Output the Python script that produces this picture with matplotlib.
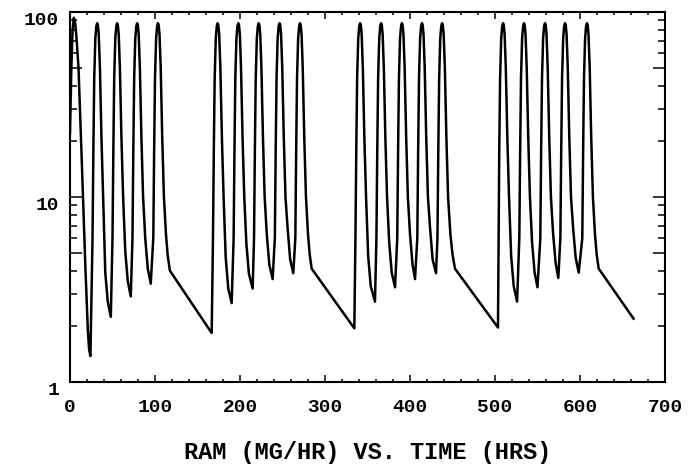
import matplotlib
matplotlib.use("Agg")
import matplotlib.pyplot as plt
from matplotlib.ticker import FixedLocator, FixedFormatter, NullFormatter

# elapsed time (hrs), one release pulse per line
hours = [
    0, 1.5, 3, 4.5, 6, 7.5, 10, 14, 18, 21, 22.5, 24,
    26.5, 27.5, 28.5, 29.8, 31, 32, 32.8, 33.8, 35.2, 37, 39, 41.5, 44.5, 48,
    50, 51, 52, 53.3, 54.5, 55.5, 56.3, 57.3, 58.7, 60.5, 62.5, 65, 68, 71.5,
    73.5, 74.5, 75.5, 76.8, 78, 79, 79.8, 80.8, 82.2, 84, 86, 88.5, 91.5, 95,
    98, 99, 100, 101.3, 102.5, 103.5, 104.3, 105.3, 106.7, 108.5, 110.5, 113, 115, 117.5, 166.7,
    168.2, 169.2, 170.2, 171.5, 172.7, 173.7, 174.5, 175.5, 176.9, 178.7, 180.7, 183.2, 186.2, 190.2,
    192.5, 193.5, 194.5, 195.8, 197, 198, 198.8, 199.8, 201.2, 203, 205, 207.5, 210.5, 214.9,
    216.5, 217.5, 218.5, 219.8, 221, 222, 222.8, 223.8, 225.2, 227, 229, 231.5, 234.5, 238.4,
    241, 242, 243, 244.3, 245.5, 246.5, 247.3, 248.3, 249.7, 251.5, 253.5, 256, 259, 262.7,
    265.1, 266.1, 267.1, 268.4, 269.6, 270.6, 271.4, 272.4, 273.8, 275.6, 277.6, 280, 282, 284.3, 334.5,
    335.8, 336.8, 337.8, 339.1, 340.3, 341.3, 342.1, 343.1, 344.5, 346.3, 348.3, 350.8, 353.8, 358.8,
    360.5, 361.5, 362.5, 363.8, 365, 366, 366.8, 367.8, 369.2, 371, 373, 375.5, 378.5, 382.4,
    385, 386, 387, 388.3, 389.5, 390.5, 391.3, 392.3, 393.7, 395.5, 397.5, 400, 403, 405.9,
    408.6, 409.6, 410.6, 411.9, 413.1, 414.1, 414.9, 415.9, 417.3, 419.1, 421.1, 423.6, 426.6, 430.6,
    432.3, 433.3, 434.3, 435.6, 436.8, 437.8, 438.6, 439.6, 441, 442.8, 444.8, 447.5, 450, 452.9, 503.5,
    504.2, 505, 506, 507.3, 508.5, 509.5, 510.3, 511.3, 512.7, 514.5, 516.5, 519, 522, 526,
    528.6, 529.6, 530.6, 531.9, 533.1, 534.1, 534.9, 535.9, 537.3, 539.1, 541.1, 543.6, 546.6, 550,
    553.3, 554.3, 555.3, 556.6, 557.8, 558.8, 559.6, 560.6, 562, 563.8, 565.8, 568.3, 571.3, 574.5,
    576.9, 577.9, 578.9, 580.2, 581.4, 582.4, 583.2, 584.2, 585.6, 587.4, 589.4, 591.9, 594.9, 598.5,
    602.7, 603.7, 604.7, 606, 607.2, 608.2, 609, 610, 611.4, 613.2, 615.2, 617.6, 619.6, 622, 663,
]

# release rate (mg/hr), same layout as hours
ram = [
    22, 48, 80, 93, 88, 74, 50, 15, 4.3, 1.9, 1.5, 1.38,
    6, 18, 44, 72, 84, 87, 85, 76, 50, 21, 10, 3.9, 2.7, 2.25,
    6, 18, 44, 72, 84, 87, 85, 76, 50, 21, 10, 5.1, 3.5, 2.9,
    6, 18, 44, 72, 84, 87, 85, 76, 50, 21, 10, 6.0, 4.1, 3.4,
    6, 18, 44, 72, 84, 87, 85, 76, 50, 21, 10, 6.2, 4.8, 4.0, 1.84,
    6, 18, 44, 72, 84, 87, 85, 76, 50, 21, 10, 4.7, 3.2, 2.67,
    6, 18, 44, 72, 84, 87, 85, 76, 50, 21, 10, 5.6, 3.85, 3.2,
    6, 18, 44, 72, 84, 87, 85, 76, 50, 21, 10, 6.3, 4.3, 3.6,
    6, 18, 44, 72, 84, 87, 85, 76, 50, 21, 10, 6.8, 4.6, 3.87,
    6, 18, 44, 72, 84, 87, 85, 76, 50, 21, 10, 6.3, 4.9, 4.1, 1.95,
    6, 18, 44, 72, 84, 87, 85, 76, 50, 21, 10, 4.8, 3.3, 2.72,
    6, 18, 44, 72, 84, 87, 85, 76, 50, 21, 10, 5.7, 3.9, 3.25,
    6, 18, 44, 72, 84, 87, 85, 76, 50, 21, 10, 6.3, 4.3, 3.6,
    6, 18, 44, 72, 84, 87, 85, 76, 50, 21, 10, 6.8, 4.6, 3.87,
    6, 18, 44, 72, 84, 87, 85, 76, 50, 21, 10, 6.3, 4.9, 4.1, 1.97,
    6, 18, 44, 72, 84, 87, 85, 76, 50, 21, 10, 4.8, 3.3, 2.72,
    6, 18, 44, 72, 84, 87, 85, 76, 50, 21, 10, 5.7, 3.9, 3.25,
    6, 18, 44, 72, 84, 87, 85, 76, 50, 21, 10, 6.4, 4.4, 3.65,
    6, 18, 44, 72, 84, 87, 85, 76, 50, 21, 10, 6.8, 4.7, 3.9,
    6, 18, 44, 72, 84, 87, 85, 76, 50, 21, 10, 6.3, 4.9, 4.1, 2.2,
]

x_major = [0, 100, 200, 300, 400, 500, 600, 700]
x_labels = ["0", "100", "200", "300", "400", "500", "600", "700"]
x_minor = [v for v in range(0, 701, 20) if v % 100]

# the half-decade marks get a long tick but no label
y_major = [1, 5, 10, 50, 100]
y_labels = ["1", "", "10", "", "100"]
y_minor = [2, 3, 4, 6, 7, 8, 9, 20, 30, 40, 60, 70, 80, 90]

title = "RAM (MG/HR) VS. TIME (HRS)"

plt.rcParams["font.family"] = ["Liberation Mono", "DejaVu Sans Mono"]
plt.rcParams["font.weight"] = "bold"

fig = plt.figure(figsize=(6.9, 4.7), dpi=100)
ax = fig.add_axes([70 / 690, 1 - 382 / 470, 595 / 690, 370 / 470])

ax.plot(hours, ram, color="black", lw=1.8, solid_joinstyle="round")

ax.set_yscale("log")
ax.set_xlim(0, 700)
ax.set_ylim(1, 100)

ax.xaxis.set_major_locator(FixedLocator(x_major))
ax.xaxis.set_major_formatter(FixedFormatter(x_labels))
ax.xaxis.set_minor_locator(FixedLocator(x_minor))
ax.yaxis.set_major_locator(FixedLocator(y_major))
ax.yaxis.set_major_formatter(FixedFormatter(y_labels))
ax.yaxis.set_minor_locator(FixedLocator(y_minor))
ax.yaxis.set_minor_formatter(NullFormatter())

for side in ax.spines.values():
    side.set_linewidth(1.5)

ax.tick_params(which="both", direction="in", top=True, right=True,
               width=1.1, colors="black", labelsize=14)
ax.tick_params(axis="x", which="major", length=5, pad=12)
ax.tick_params(axis="x", which="minor", length=2.5)
ax.tick_params(axis="y", which="major", length=8.5, pad=8)
ax.tick_params(axis="y", which="minor", length=5)
plt.setp(ax.get_yticklabels(), va="top")

fig.text(368 / 690, 1 - 453 / 470, title, ha="center", va="center",
         fontsize=17, fontweight="bold")

fig.savefig("out.png", dpi=100)
